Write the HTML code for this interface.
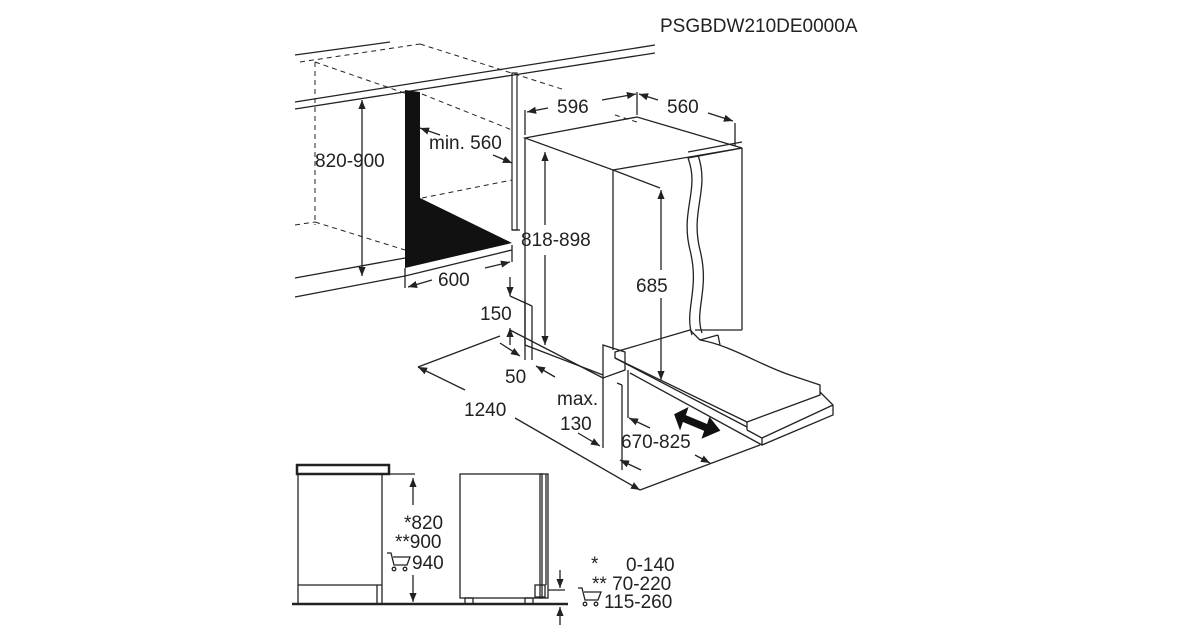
<!DOCTYPE html>
<html><head><meta charset="utf-8"><style>
html,body{margin:0;padding:0;background:#fff;}
svg{display:block}
text{font-family:"Liberation Sans",sans-serif;fill:#222;}
</style></head><body>
<svg width="1200" height="630" viewBox="0 0 1200 630" xmlns="http://www.w3.org/2000/svg">
<defs>
<marker id="a" viewBox="0 0 10 10" refX="10" refY="5" markerWidth="7" markerHeight="7" orient="auto-start-reverse"><path d="M0,1 L10,5 L0,9 z" fill="#222"/></marker>
</defs>
<text x="660" y="32" font-size="19">PSGBDW210DE0000A</text>
<g stroke="#222" stroke-width="1.3" fill="none">
<line x1="295" y1="55" x2="390" y2="42"/>
<line x1="295" y1="102" x2="655" y2="45"/>
<line x1="295" y1="109" x2="655" y2="53"/>
<line x1="295" y1="278" x2="405" y2="258"/>
<line x1="295" y1="297" x2="405" y2="276"/>
<line x1="405" y1="276" x2="512" y2="250"/>
<g stroke-dasharray="5,4" stroke-width="1">
<line x1="300" y1="62" x2="420" y2="44"/>
<line x1="315" y1="62" x2="315" y2="225"/>
<line x1="295" y1="225" x2="315" y2="222"/>
<line x1="315" y1="62" x2="410" y2="95"/>
<line x1="420" y1="44" x2="565" y2="90"/>
<line x1="422" y1="94" x2="512" y2="130"/>
<line x1="422" y1="198" x2="512" y2="180"/>
<line x1="315" y1="222" x2="405" y2="250"/>
<line x1="615" y1="115" x2="640" y2="123"/>
</g>
<rect x="512" y="73" width="5" height="157" stroke-width="1.2"/>
<line x1="512" y1="230" x2="520" y2="230"/>
<line x1="362" y1="100" x2="362" y2="276" marker-start="url(#a)" marker-end="url(#a)"/>
<line x1="420" y1="128" x2="440" y2="135" marker-start="url(#a)"/>
<line x1="493" y1="155" x2="512" y2="163" marker-end="url(#a)"/>
<line x1="405" y1="268" x2="405" y2="288"/>
<line x1="512" y1="245" x2="512" y2="262"/>
<line x1="408" y1="287" x2="432" y2="280" marker-start="url(#a)"/>
<line x1="485" y1="268" x2="510" y2="262" marker-end="url(#a)"/>
<polygon points="525,138 637,117 742,148 613,170"/>
<line x1="525" y1="138" x2="525" y2="345"/>
<line x1="613" y1="170" x2="613" y2="350"/>
<line x1="742" y1="148" x2="742" y2="330"/>
<line x1="613" y1="170" x2="660" y2="188"/>
<line x1="525" y1="345" x2="603" y2="375"/>
<line x1="695" y1="330" x2="742" y2="330"/>
<path d="M688,158 C700,190 680,210 690,250 C700,290 684,310 692,335"/>
<path d="M698,155 C710,190 690,210 700,250 C710,290 694,310 702,333"/>
<line x1="688" y1="158" x2="742" y2="148"/>
<line x1="688" y1="152" x2="742" y2="142"/>
<line x1="525" y1="110" x2="525" y2="135"/>
<line x1="637" y1="92" x2="637" y2="115"/>
<line x1="735" y1="123" x2="735" y2="146"/>
<line x1="527" y1="112" x2="548" y2="108" marker-start="url(#a)"/>
<line x1="602" y1="100" x2="636" y2="94" marker-end="url(#a)"/>
<line x1="639" y1="94" x2="658" y2="100" marker-start="url(#a)"/>
<line x1="708" y1="113" x2="733" y2="121" marker-end="url(#a)"/>
<line x1="545" y1="152" x2="545" y2="225" marker-start="url(#a)"/>
<line x1="545" y1="255" x2="545" y2="345" marker-end="url(#a)"/>
<line x1="661" y1="190" x2="661" y2="270" marker-start="url(#a)"/>
<line x1="661" y1="298" x2="661" y2="380" marker-end="url(#a)"/>
<!-- door open -->
<path d="M615,352 L690,330 L700,340 C730,345 760,365 790,375 L820,385 L820,395 L747,422 L615,358 Z"/>
<line x1="615" y1="358" x2="747" y2="427"/>
<line x1="747" y1="422" x2="747" y2="430"/>
<path d="M820,392 L833,405 L833,415 L762,445 L762,438 L747,430"/>
<line x1="762" y1="438" x2="833" y2="405"/>
<line x1="630" y1="373" x2="762" y2="445"/>
<line x1="700" y1="340" x2="718" y2="335"/>
<line x1="718" y1="335" x2="720" y2="345"/>
<polygon points="603,345 625,352 625,370 603,378"/>
<line x1="603" y1="378" x2="603" y2="448"/>
<line x1="617" y1="383" x2="622" y2="385"/>
<line x1="622" y1="385" x2="622" y2="470"/>
<line x1="628" y1="370" x2="628" y2="418"/>
<line x1="510" y1="277" x2="510" y2="296" marker-end="url(#a)"/>
<line x1="510" y1="296" x2="532" y2="306"/>
<line x1="532" y1="306" x2="532" y2="360"/>
<line x1="525" y1="300" x2="525" y2="360"/>
<line x1="510" y1="345" x2="510" y2="328" marker-end="url(#a)"/>
<line x1="510" y1="330" x2="603" y2="378"/>
<line x1="500" y1="343" x2="520" y2="356" marker-end="url(#a)"/>
<line x1="555" y1="377" x2="536" y2="366" marker-end="url(#a)"/>
<line x1="418" y1="367" x2="500" y2="336"/>
<line x1="418" y1="367" x2="465" y2="390" marker-start="url(#a)"/>
<line x1="515" y1="418" x2="640" y2="490" marker-end="url(#a)"/>
<line x1="640" y1="490" x2="760" y2="445"/>
<line x1="578" y1="433" x2="600" y2="446" marker-end="url(#a)"/>
<line x1="629" y1="418" x2="650" y2="428" marker-start="url(#a)"/>
<line x1="620" y1="460" x2="641" y2="470" marker-start="url(#a)"/>
<line x1="695" y1="455" x2="710" y2="463" marker-end="url(#a)"/>
</g>
<path d="M405,90 L420,92 L420,198 L512,243 L405,268 Z" fill="#111"/>
<path d="M676,415 L686,410 L684,416 L708,426 L710,420 L718,430 L704,436 L706,430 L682,420 L680,426 Z" fill="#111" stroke="#111" stroke-width="3"/>
<g font-size="19">
<text x="315" y="167">820-900</text>
<text x="429" y="149">min. 560</text>
<text x="438" y="286">600</text>
<text x="557" y="113">596</text>
<text x="667" y="113">560</text>
<text x="521" y="246">818-898</text>
<text x="636" y="292">685</text>
<text x="480" y="320">150</text>
<text x="505" y="383">50</text>
<text x="464" y="416">1240</text>
<text x="557" y="405">max.</text>
<text x="560" y="430">130</text>
<text x="621" y="448">670-825</text>
</g>
<g stroke="#222" stroke-width="1.3" fill="none">
<rect x="297" y="465" width="92" height="9" stroke-width="2.5"/>
<rect x="298" y="474" width="84" height="130"/>
<line x1="298" y1="585" x2="382" y2="585"/>
<line x1="377" y1="585" x2="377" y2="604"/>
<line x1="292" y1="604" x2="568" y2="604" stroke-width="2.5"/>
<line x1="385" y1="474" x2="415" y2="474"/>
<line x1="413" y1="478" x2="413" y2="505" marker-start="url(#a)"/>
<line x1="413" y1="575" x2="413" y2="602" marker-end="url(#a)"/>
<rect x="460" y="474" width="82" height="124"/>
<rect x="540" y="474" width="8" height="124"/>
<line x1="546" y1="474" x2="546" y2="585"/>
<rect x="465" y="598" width="8" height="6"/>
<rect x="525" y="598" width="8" height="6"/>
<rect x="535" y="585" width="10" height="12"/>
<line x1="548" y1="590" x2="565" y2="590"/>
<line x1="560" y1="570" x2="560" y2="588" marker-end="url(#a)"/>
<line x1="560" y1="625" x2="560" y2="607" marker-end="url(#a)"/>
<path d="M387,553 l4,0 l3,12 l13,0 l3,-8 l-17,0"/>
<circle cx="394" cy="569" r="1.8"/><circle cx="405" cy="569" r="1.8"/>
<path d="M578,588 l4,0 l3,12 l13,0 l3,-8 l-17,0"/>
<circle cx="585" cy="604" r="1.8"/><circle cx="596" cy="604" r="1.8"/>
</g>
<g font-size="19">
<text x="404" y="529">*820</text>
<text x="395" y="548">**900</text>
<text x="412" y="569">940</text>
<text x="591" y="570">*</text>
<text x="626" y="571">0-140</text>
<text x="592" y="590">** 70-220</text>
<text x="604" y="608">115-260</text>
</g>
</svg>
</body></html>
